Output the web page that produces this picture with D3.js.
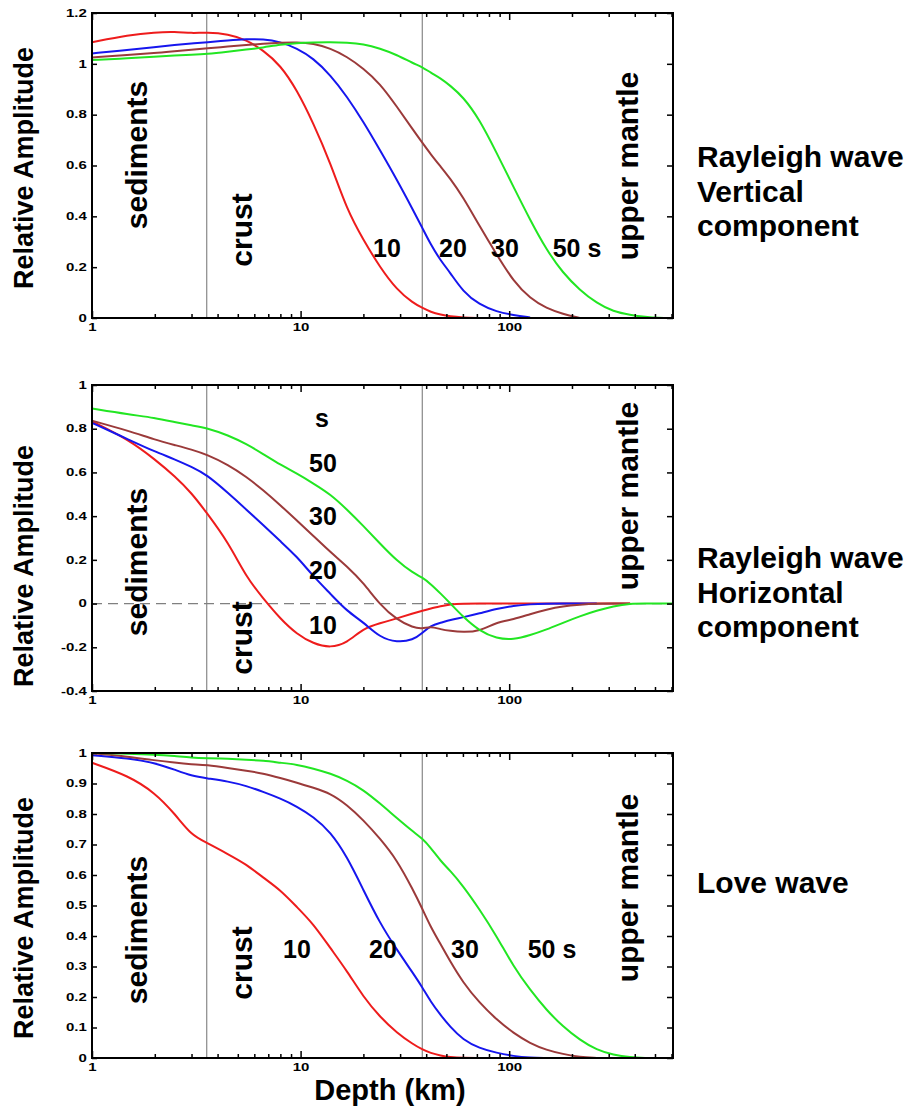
<!DOCTYPE html>
<html>

<head>
  <title>Surface wave amplitude vs depth</title>
  <script src="https://cdn.jsdelivr.net/npm/d3@7"></script>
  <style>
    body { margin: 0; background: #fff; }
    text { font-family: "Liberation Sans", Arial, sans-serif; font-weight: bold; }
  </style>
</head>

<body>
  <svg width="910" height="1118" id="mainsvg"></svg>
  <script>
    // depth grid (km) shared by every curve
    const depths = [1, 1.5, 2, 2.5, 3, 3.55, 4.5, 5.5, 6.6, 8, 9.6, 11.5, 13.9, 16.7, 20, 24, 29, 34.6, 38.3,
      42, 47, 52, 60, 72, 87, 105, 126, 151, 181, 218, 263, 316, 380, 450, 520, 610];
    const periods = ['10', '20', '30', '50'];
    const colors = ['#ee1c1c', '#1616ee', '#9b3a3a', '#22e622'];

    // Rayleigh wave, vertical component
    const vert10 = [1.085, 1.113, 1.124, 1.127, 1.12, 1.124, 1.117, 1.094, 1.054, 0.995, 0.897, 0.767, 0.61, 0.425, 0.307,
      0.2, 0.11, 0.059, 0.04, 0.024, 0.013, 0.006, 0.002, 0, null, null, null, null, null, null, null, null, null, null, null, null];
    const vert20 = [1.041, 1.055, 1.066, 1.074, 1.08, 1.085, 1.092, 1.097, 1.098, 1.087, 1.061, 1.022, 0.956, 0.871, 0.772,
      0.661, 0.543, 0.425, 0.355, 0.29, 0.225, 0.18, 0.104, 0.052, 0.025, 0.011, 0.002, null, null, null, null, null, null, null, null, null];
    const vert30 = [1.025, 1.035, 1.042, 1.05, 1.056, 1.061, 1.068, 1.074, 1.079, 1.083, 1.085, 1.08, 1.061, 1.028, 0.982,
      0.923, 0.831, 0.74, 0.69, 0.645, 0.595, 0.55, 0.477, 0.362, 0.25, 0.143, 0.077, 0.038, 0.016, 0, null, null, null, null, null, null];
    const vert50 = [1.015, 1.022, 1.028, 1.033, 1.036, 1.039, 1.048, 1.056, 1.064, 1.076, 1.082, 1.084, 1.085, 1.083, 1.078,
      1.061, 1.035, 1.002, 0.988, 0.965, 0.943, 0.915, 0.871, 0.782, 0.65, 0.515, 0.386, 0.268, 0.177, 0.11, 0.058, 0.025, 0.012, 0.004, 0, 0];

    // Rayleigh wave, horizontal component
    const horiz10 = [0.834, 0.75, 0.66, 0.582, 0.506, 0.415, 0.28, 0.12, 0.025, -0.07, -0.14, -0.183, -0.203, -0.18, -0.113,
      -0.09, -0.068, -0.045, -0.033, -0.022, -0.012, -0.003, 0, 0, 0, 0, 0, 0, 0, 0, 0, 0, 0, null, null, null];
    const horiz20 = [0.827, 0.75, 0.695, 0.66, 0.625, 0.59, 0.505, 0.43, 0.36, 0.285, 0.215, 0.125, 0.045, -0.035, -0.085,
      -0.155, -0.178, -0.167, -0.135, -0.1, -0.088, -0.075, -0.063, -0.045, -0.024, -0.01, -0.003, 0, 0, 0, 0, null, null, null, null, null];
    const horiz30 = [0.837, 0.79, 0.75, 0.725, 0.705, 0.682, 0.635, 0.58, 0.52, 0.45, 0.38, 0.31, 0.235, 0.17, 0.095,
      -0.005, -0.075, -0.11, -0.116, -0.104, -0.118, -0.125, -0.131, -0.127, -0.085, -0.073, -0.048, -0.027, -0.012, -0.005, 0, 0, 0, null, null, null];
    const horiz50 = [0.892, 0.865, 0.85, 0.83, 0.815, 0.804, 0.77, 0.73, 0.685, 0.635, 0.595, 0.55, 0.5, 0.43, 0.355,
      0.275, 0.195, 0.14, 0.12, 0.09, 0.045, 0.003, -0.06, -0.125, -0.16, -0.165, -0.145, -0.119, -0.088, -0.058, -0.032, -0.012, 0, 0, 0, 0];

    // Love wave
    const love10 = [0.968, 0.925, 0.87, 0.8, 0.73, 0.706, 0.668, 0.635, 0.592, 0.551, 0.495, 0.44, 0.36, 0.285, 0.2,
      0.135, 0.082, 0.045, 0.028, 0.016, 0.008, 0.003, 0, 0, null, null, null, null, null, null, null, null, null, null, null, null];
    const love20 = [0.993, 0.983, 0.968, 0.945, 0.925, 0.917, 0.907, 0.892, 0.873, 0.851, 0.825, 0.791, 0.742, 0.66, 0.551,
      0.442, 0.354, 0.278, 0.232, 0.185, 0.14, 0.103, 0.06, 0.032, 0.017, 0.006, 0.001, 0, null, null, null, null, null, null, null, null];
    const love30 = [0.999, 0.988, 0.976, 0.968, 0.963, 0.961, 0.951, 0.942, 0.933, 0.918, 0.903, 0.886, 0.868, 0.83, 0.78,
      0.72, 0.649, 0.551, 0.49, 0.43, 0.372, 0.318, 0.248, 0.181, 0.126, 0.081, 0.048, 0.026, 0.013, 0.003, 0, null, null, null, null, null];
    const love50 = [1.0, 0.998, 0.995, 0.99, 0.985, 0.983, 0.981, 0.978, 0.975, 0.968, 0.962, 0.949, 0.933, 0.91, 0.879,
      0.835, 0.786, 0.742, 0.72, 0.69, 0.645, 0.615, 0.565, 0.488, 0.4, 0.299, 0.223, 0.157, 0.103, 0.059, 0.026, 0.01, 0.002, 0, 0, 0];

    const yTicksVert = [0, 0.2, 0.4, 0.6, 0.8, 1, 1.2];
    const yTicksHoriz = [-0.4, -0.2, 0, 0.2, 0.4, 0.6, 0.8, 1];
    const yTicksLove = [0, 0.1, 0.2, 0.3, 0.4, 0.5, 0.6, 0.7, 0.8, 0.9, 1];
    const xLabels = [1, 10, 100];
    const crustTop = 3.55;   // sediments / crust boundary (km)
    const moho = 38.3;       // crust / upper mantle boundary (km)

    const svg = d3.select('#mainsvg');
    svg.append('rect').attr('width', 910).attr('height', 1118).attr('fill', '#fff');

    const x = d3.scaleLog().domain([1, 610]).range([92, 673]);
    const allTicks = x.ticks();
    const isMajor = d => xLabels.includes(d);

    const panels = [
      {
        top: 13, bottom: 318, domain: [0, 1.2], ticks: yTicksVert, series: [vert10, vert20, vert30, vert50],
        titleY: 168, title: ['Rayleigh wave', 'Vertical', 'component'], titleBase: 167,
        sed: 155, crust: 230, mantle: 166,
        nums: [['10', 387, 257], ['20', 453, 257], ['30', 505, 257], ['50 s', 577, 257]]
      },
      {
        top: 385, bottom: 691, domain: [-0.4, 1], ticks: yTicksHoriz, series: [horiz10, horiz20, horiz30, horiz50],
        titleY: 566, title: ['Rayleigh wave', 'Horizontal', 'component'], titleBase: 568, zero: true,
        sed: 562, crust: 638, mantle: 496,
        nums: [['s', 322, 427], ['50', 323, 472], ['30', 323, 525], ['20', 323, 579], ['10', 323, 634]]
      },
      {
        top: 753, bottom: 1058, domain: [0, 1], ticks: yTicksLove, series: [love10, love20, love30, love50],
        titleY: 918, title: ['Love wave'], titleBase: 893,
        sed: 930, crust: 963, mantle: 888,
        nums: [['10', 297, 958], ['20', 383, 958], ['30', 465, 958], ['50 s', 552, 958]]
      }
    ];

    const fmt = d => String(+d.toFixed(1));

    panels.forEach(p => {
      const y = d3.scaleLinear().domain(p.domain).range([p.bottom, p.top]);
      const g = svg.append('g');

      // region boundaries
      g.selectAll('line.bound').data([crustTop, moho]).join('line')
        .attr('class', 'bound')
        .attr('x1', d => x(d)).attr('x2', d => x(d))
        .attr('y1', p.top).attr('y2', p.bottom)
        .attr('stroke', '#707070').attr('stroke-width', 1);

      if (p.zero) {
        g.append('line')
          .attr('x1', x(1)).attr('x2', x(610))
          .attr('y1', y(0)).attr('y2', y(0))
          .attr('stroke', '#808080').attr('stroke-width', 1.2)
          .attr('stroke-dasharray', '10,6');
      }

      // curves
      const line = d3.line()
        .defined(d => d[1] != null)
        .x(d => x(d[0]))
        .y(d => y(d[1]))
        .curve(d3.curveBasis);
      p.series.forEach((vals, i) => {
        g.append('path')
          .datum(depths.map((d, j) => [d, vals[j]]))
          .attr('d', line)
          .attr('fill', 'none')
          .attr('stroke', colors[i])
          .attr('stroke-width', 2);
      });

      // axes
      const left = g.append('g').attr('transform', `translate(${x(1)},0)`)
        .call(d3.axisLeft(y).tickValues(p.ticks).tickSize(-5).tickPadding(3.5).tickFormat(fmt));
      const right = g.append('g').attr('transform', `translate(${x(610)},0)`)
        .call(d3.axisRight(y).tickValues(p.ticks).tickSize(-6).tickFormat(''));
      const bottom = g.append('g').attr('transform', `translate(0,${p.bottom})`)
        .call(d3.axisBottom(x).tickValues(allTicks).tickSize(-4).tickPadding(6)
          .tickFormat(d => isMajor(d) ? d : ''));
      const topAx = g.append('g').attr('transform', `translate(0,${p.top})`)
        .call(d3.axisTop(x).tickValues(allTicks).tickSize(-4).tickFormat(''));

      bottom.selectAll('.tick line').attr('y2', d => isMajor(d) ? -7 : -4);
      topAx.selectAll('.tick line').attr('y2', d => isMajor(d) ? 7 : 4);

      [left, right, bottom, topAx].forEach(a => {
        a.select('.domain').remove();
        a.selectAll('.tick line').attr('stroke', '#000').attr('stroke-width', 1.5);
        a.selectAll('text')
          .attr('font-family', '"Liberation Sans", Arial, sans-serif')
          .attr('font-weight', 'bold')
          .attr('font-size', 10)
          .attr('fill', '#000')
          .attr('transform', 'scale(1.5,1)');
      });

      g.append('rect')
        .attr('x', x(1)).attr('y', p.top)
        .attr('width', x(610) - x(1)).attr('height', p.bottom - p.top)
        .attr('fill', 'none').attr('stroke', '#000').attr('stroke-width', 2);

      // y title
      g.append('text')
        .attr('transform', `translate(33,${p.titleY}) rotate(-90)`)
        .attr('text-anchor', 'middle')
        .attr('font-size', 27)
        .text('Relative Amplitude');

      // region labels
      const regions = [['sediments', 147, p.sed], ['crust', 252, p.crust], ['upper mantle', 638, p.mantle]];
      g.selectAll('text.region').data(regions).join('text')
        .attr('class', 'region')
        .attr('transform', d => `translate(${d[1]},${d[2]}) rotate(-90)`)
        .attr('text-anchor', 'middle')
        .attr('font-size', 30)
        .text(d => d[0]);

      // period labels
      g.selectAll('text.num').data(p.nums).join('text')
        .attr('class', 'num')
        .attr('x', d => d[1]).attr('y', d => d[2])
        .attr('text-anchor', 'middle')
        .attr('font-size', 25)
        .text(d => d[0]);

      // panel title on the right
      g.selectAll('text.title').data(p.title).join('text')
        .attr('class', 'title')
        .attr('x', 697)
        .attr('y', (d, i) => p.titleBase + i * 34.5)
        .attr('font-size', 30)
        .text(d => d);
    });

    svg.append('text')
      .attr('x', 390).attr('y', 1100)
      .attr('text-anchor', 'middle')
      .attr('font-size', 29)
      .text('Depth (km)');
  </script>
</body>

</html>
